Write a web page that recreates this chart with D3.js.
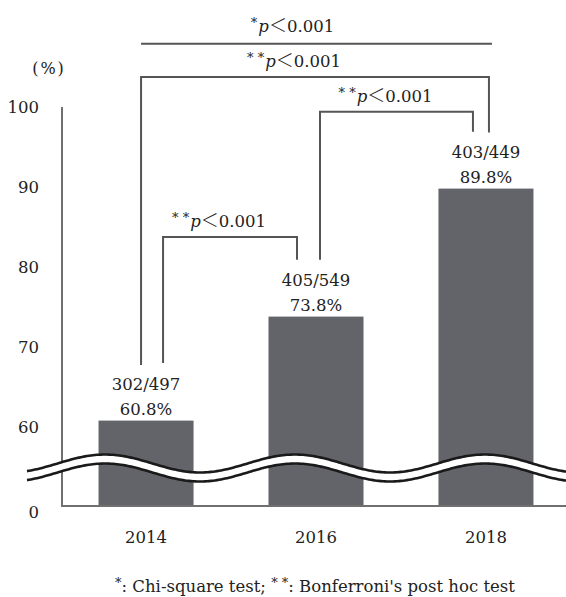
<!DOCTYPE html>
<html>
<head>
<meta charset="utf-8">
<script src="https://cdn.jsdelivr.net/npm/d3@7"></script>
<style>
    body { margin: 0; background: #fff; }
    text { font-family: "DejaVu Serif", serif; fill: #222; }
</style>
</head>
<body>
<div id="chart-area"></div>
<script>
var years = ["2014", "2016", "2018"];
var percents = [60.8, 73.8, 89.8];
var counts = ["302/497", "405/549", "403/449"];
var yTicks = [0, 60, 70, 80, 90, 100];

// comparisons: from / to year, bracket level and end levels (in % units)
var bracketFrom = ["2014", "2014", "2016"];
var bracketTo = ["2016", "2018", "2018"];
var bracketLevel = [83.75, 103.75, 99.4];
var bracketLeftEnd = [68, 67.75, 80.9];
var bracketRightEnd = [80.9, 96.8, 96.9];
var bracketStars = [2, 2, 2];
var chiLevel = 107.9;

var width = 566, height = 597;

var svg = d3.select("#chart-area")
    .append("svg")
    .attr("width", width)
    .attr("height", height);

var x = d3.scaleBand()
    .domain(years)
    .range([62, 570])
    .paddingInner(0.441)
    .paddingOuter(0.215);

// broken axis: 0..55 squeezed into the bottom strip
var y = d3.scaleLinear()
    .domain([0, 55, 110])
    .range([506, 467, 27]);

var data = years.map((d, i) => ({ year: d, pct: percents[i], n: counts[i] }));

svg.selectAll(".bar")
    .data(data)
    .enter()
    .append("rect")
    .attr("class", "bar")
    .attr("x", d => x(d.year))
    .attr("y", d => y(d.pct))
    .attr("width", x.bandwidth())
    .attr("height", d => y(0) - y(d.pct))
    .attr("fill", "#636469");

// axis lines
svg.append("line")
    .attr("x1", 62).attr("x2", 62)
    .attr("y1", y(100)).attr("y2", y(0))
    .attr("stroke", "#707070").attr("stroke-width", 2);
svg.append("line")
    .attr("x1", 61).attr("x2", width)
    .attr("y1", y(0)).attr("y2", y(0))
    .attr("stroke", "#707070").attr("stroke-width", 2);

// y tick labels
var yAxis = svg.append("g")
    .attr("transform", "translate(62,0)")
    .call(d3.axisLeft(y).tickValues(yTicks).tickSize(0).tickPadding(23));
yAxis.select(".domain").remove();
yAxis.selectAll("text")
    .style("font-family", "DejaVu Serif")
    .style("font-size", "16.5px")
    .attr("fill", "#222")
    .attr("dy", d => d === 0 ? "0.72em" : "0.35em");

svg.append("text")
    .attr("x", 49).attr("y", 74)
    .attr("text-anchor", "middle")
    .style("font-size", "16px")
    .style("letter-spacing", "2px")
    .text("(%)");

// x labels
svg.selectAll(".year-label")
    .data(years)
    .enter()
    .append("text")
    .attr("class", "year-label")
    .attr("x", d => x(d) + x.bandwidth() / 2)
    .attr("y", 543)
    .attr("text-anchor", "middle")
    .style("font-size", "16.5px")
    .text(d => d);

// value labels
svg.selectAll(".n-label")
    .data(data)
    .enter()
    .append("text")
    .attr("x", d => x(d.year) + x.bandwidth() / 2)
    .attr("y", d => y(d.pct) - 31)
    .attr("text-anchor", "middle")
    .style("font-size", "16.5px")
    .text(d => d.n);
svg.selectAll(".pct-label")
    .data(data)
    .enter()
    .append("text")
    .attr("x", d => x(d.year) + x.bandwidth() / 2)
    .attr("y", d => y(d.pct) - 6)
    .attr("text-anchor", "middle")
    .style("font-size", "16.5px")
    .text(d => d.pct.toFixed(1) + "%");

// axis break symbol
var waveX = d3.range(27, width + 2, 2);
var wave = (off) => d3.line()
    .x(d => d)
    .y(d => 468 + off - 9 * Math.cos(2 * Math.PI * (d - 105) / 190));
svg.append("path")
    .attr("d", wave(0)(waveX))
    .attr("fill", "none").attr("stroke", "#fff").attr("stroke-width", 8);
[-4.5, 4.5].forEach(off => {
    svg.append("path")
        .attr("d", wave(off)(waveX))
        .attr("fill", "none").attr("stroke", "#1a1a1a").attr("stroke-width", 2.6);
});

// significance label helper
function pLabel(sel, stars) {
    var t = sel.append("text").attr("text-anchor", "middle").style("font-size", "16.5px");
    t.append("tspan").text(stars === 2 ? "* *" : "*")
        .attr("dy", -5).style("font-size", "13px");
    t.append("tspan").text("p").attr("dy", 5).style("font-style", "italic").attr("dx", 1);
    t.append("tspan").text("＜").style("font-family", "Noto Sans CJK JP")
        .style("font-weight", 300).style("font-size", "18px");
    t.append("tspan").text("0.001");
    return t;
}

var bShift = [-11, -21, -11];
var bLeftOff = [17, -5, 4];
var bRightOff = [-19, 3, -13];
bracketFrom.forEach((f, i) => {
    var x1 = x(f) + x.bandwidth() / 2 + bLeftOff[i];
    var x2 = x(bracketTo[i]) + x.bandwidth() / 2 + bRightOff[i];
    var path = d3.path();
    path.moveTo(x1, y(bracketLeftEnd[i]));
    path.lineTo(x1, y(bracketLevel[i]));
    path.lineTo(x2, y(bracketLevel[i]));
    path.lineTo(x2, y(bracketRightEnd[i]));
    svg.append("path")
        .attr("d", path.toString())
        .attr("fill", "none")
        .attr("stroke", "#555")
        .attr("stroke-width", 2);
    pLabel(svg, bracketStars[i])
        .attr("x", (x1 + x2) / 2 + bShift[i])
        .attr("y", y(bracketLevel[i]) - 10);
});

// chi-square line across all years
var cx1 = x("2014") + x.bandwidth() / 2 - 5;
var cx2 = x("2018") + x.bandwidth() / 2 + 6;
svg.append("line")
    .attr("x1", cx1).attr("x2", cx2)
    .attr("y1", y(chiLevel)).attr("y2", y(chiLevel))
    .attr("stroke", "#555").attr("stroke-width", 2);
pLabel(svg, 1)
    .attr("x", (cx1 + cx2) / 2 - 24)
    .attr("y", y(chiLevel) - 12);

// footnote
var foot = svg.append("text")
    .attr("x", 315).attr("y", 592)
    .attr("text-anchor", "middle")
    .style("font-size", "16.5px");
foot.append("tspan").text("*").attr("dy", -5).style("font-size", "13px");
foot.append("tspan").text(": Chi-square test; ").attr("dy", 5);
foot.append("tspan").text("* *").attr("dy", -5).style("font-size", "13px");
foot.append("tspan").text(": Bonferroni's post hoc test").attr("dy", 5);
</script>
</body>
</html>
